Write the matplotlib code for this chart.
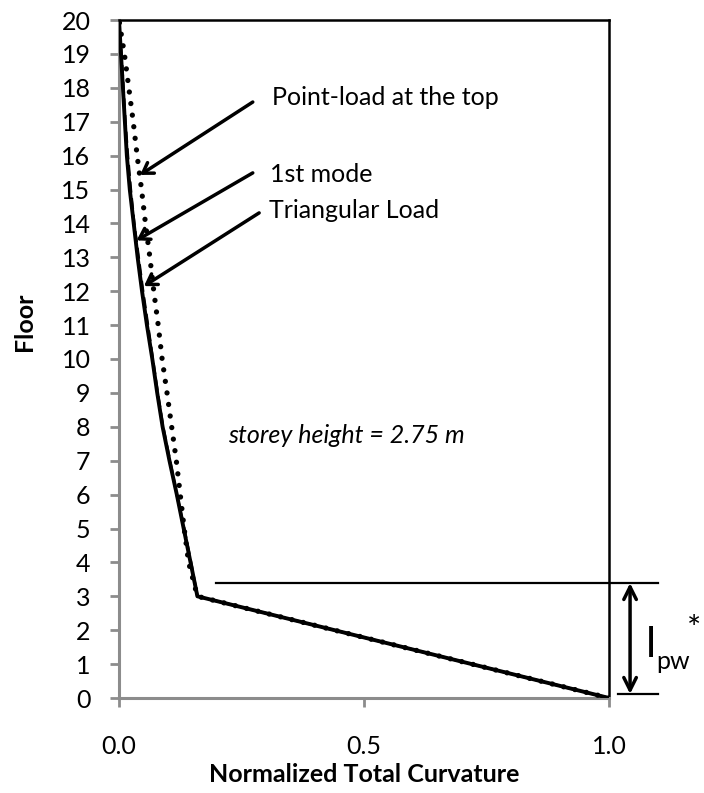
import matplotlib
matplotlib.use("Agg")
import matplotlib.pyplot as plt

plt.rcParams['font.family'] = ['Lato', 'DejaVu Sans']

floors = list(range(21))  # 0..20
first_mode = [1.0, 0.72, 0.44, 0.160, 0.146, 0.132, 0.118, 0.103, 0.089, 0.078,
              0.068, 0.057, 0.047, 0.038, 0.030, 0.022, 0.016, 0.012, 0.008, 0.004, 0.0]
triangular = [1.0, 0.72, 0.44, 0.160, 0.147, 0.133, 0.118, 0.104, 0.090, 0.079,
              0.069, 0.059, 0.049, 0.040, 0.031, 0.024, 0.018, 0.013, 0.009, 0.005, 0.0]
point_load = [1.0, 0.72, 0.44, 0.160, 0.142, 0.133, 0.125, 0.117, 0.1075, 0.098,
              0.088, 0.080, 0.071, 0.063, 0.054, 0.046, 0.037, 0.029, 0.020, 0.011, 0.0]

xticks = [0.0, 0.5, 1.0]
xtick_labels = ["0.0", "0.5", "1.0"]
yticks = list(range(0, 21))

fig = plt.figure(figsize=(7.04, 7.93), dpi=100)
ax = fig.add_axes([119/704, 1 - 698/793, (609 - 119)/704, (698 - 20)/793])

ax.plot(point_load, floors, color='black', lw=3.8, linestyle=(0, (0.01, 2.2)),
        dash_capstyle='round', zorder=3)
ax.plot(triangular, floors, color='black', lw=2.0, linestyle=(0, (4, 2)), zorder=3)
ax.plot(first_mode, floors, color='black', lw=2.8, zorder=4)

ax.set_xlim(0, 1.0)
ax.set_ylim(0, 20)
ax.set_xticks(xticks)
ax.set_xticklabels(xtick_labels)
ax.set_yticks(yticks)

gray = '#8c8c8c'
for s in ['left', 'bottom']:
    ax.spines[s].set_color(gray)
    ax.spines[s].set_linewidth(2.2)
for s in ['top', 'right']:
    ax.spines[s].set_color('black')
    ax.spines[s].set_linewidth(1.8)

ax.tick_params(axis='both', direction='out', length=6.5, width=2.0, color=gray,
               labelsize=18, labelcolor='black')
ax.tick_params(axis='x', pad=20)
ax.tick_params(axis='y', pad=14)

ax.set_xlabel("Normalized Total Curvature", fontsize=18, fontweight='bold', labelpad=4)
ax.set_ylabel("Floor", fontsize=18, fontweight='bold')
ax.yaxis.set_label_coords(-0.17, (698 - 322) / 678)

# annotations
txt_kw = dict(fontsize=18, ha='left', va='baseline')
ax.text(0.312, 17.49, "Point-load at the top", **txt_kw)
ax.text(0.308, 15.23, "1st mode", **txt_kw)
ax.text(0.306, 14.16, "Triangular Load", **txt_kw)
ax.text(0.222, 7.52, "storey height = 2.75 m", fontsize=18, style='italic',
        ha='left', va='baseline')

arr = dict(arrowstyle='->,head_length=0.7,head_width=0.45', lw=2.5, color='black',
           shrinkA=0, shrinkB=0)
ax.annotate('', xy=(0.043, 15.43), xytext=(0.273, 17.58), arrowprops=arr, annotation_clip=False)
ax.annotate('', xy=(0.036, 13.5), xytext=(0.273, 15.49), arrowprops=arr, annotation_clip=False)
ax.annotate('', xy=(0.051, 12.15), xytext=(0.286, 14.31), arrowprops=arr, annotation_clip=False)

# l_pw indicator
ax.plot([0.198, 1.10], [3.39, 3.39], color='black', lw=1.6, clip_on=False)
ax.plot([1.018, 1.10], [0.12, 0.12], color='black', lw=1.6, clip_on=False)
arr2 = dict(arrowstyle='<->,head_length=0.9,head_width=0.45', lw=2.5, color='black',
            shrinkA=0, shrinkB=0)
ax.annotate('', xy=(1.043, 3.39), xytext=(1.043, 0.12), arrowprops=arr2, annotation_clip=False)
ax.text(1.075, 1.22, "l", fontsize=31, ha='left', va='baseline', clip_on=False)
ax.text(1.097, 0.87, "pw", fontsize=18, ha='left', va='baseline', clip_on=False)
ax.text(1.160, 1.75, "*", fontsize=24, ha='left', va='baseline', clip_on=False)

fig.savefig("out.png", dpi=100)
